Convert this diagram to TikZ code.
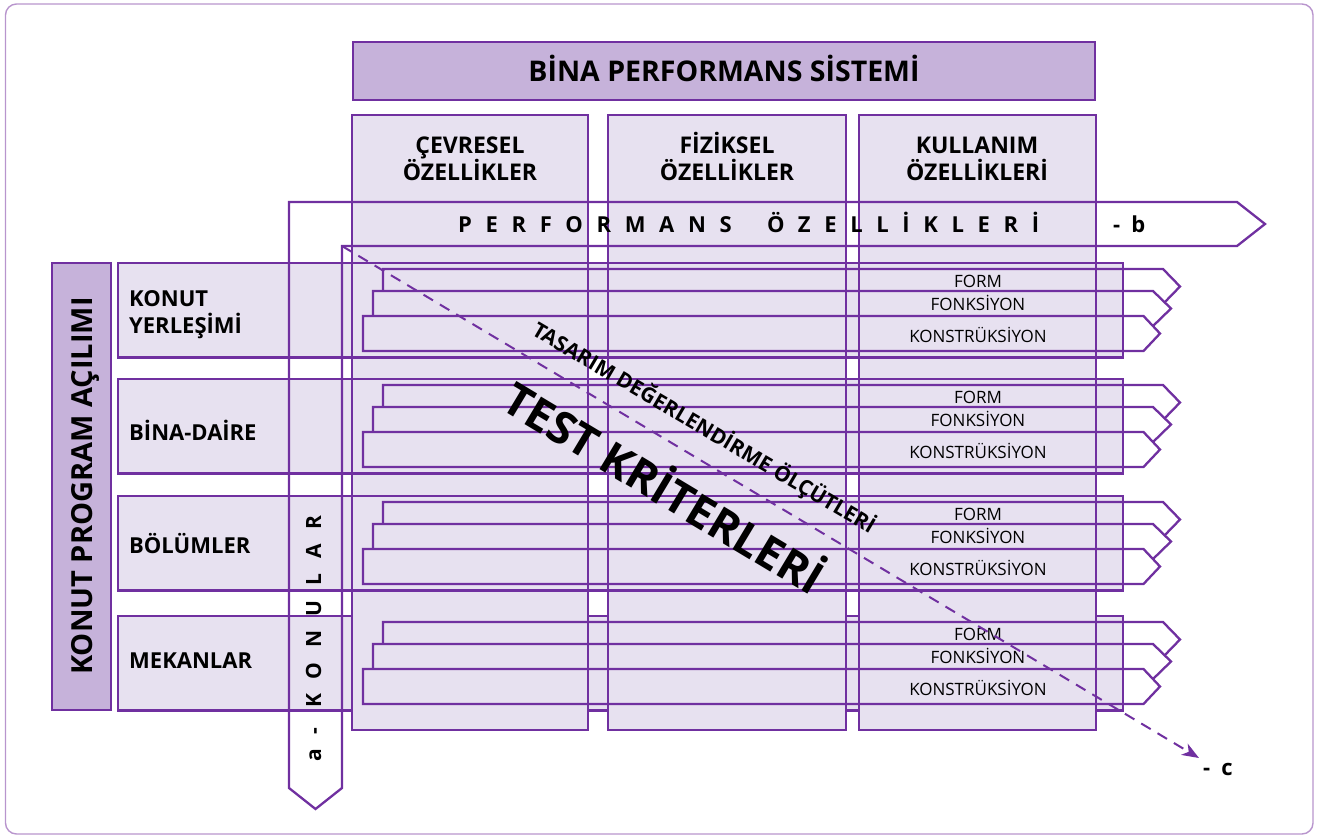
\documentclass[tikz,border=0pt]{standalone}
\usepackage{fontspec}
\setmainfont{Open Sans}
\usetikzlibrary{arrows.meta}
\definecolor{violetline}{HTML}{7030A0}
\definecolor{lilacfill}{HTML}{E7E1F0}
\definecolor{headfill}{HTML}{C6B2DA}
\definecolor{framecol}{HTML}{B895CD}
% one criteria band: left x, top y, shoulder x, tip x (height 35)
\newcommand\bandarrow[4]{%
  \fill[white] (#1,#2) -- (#3,#2) -- (#4,#2+17.5) -- (#3,#2+35) -- (#1,#2+35) -- cycle;
  \fill[lilacfill] (#1,#2) rectangle (1123,#2+35);
  \draw[outline] (#1,#2) -- (#3,#2) -- (#4,#2+17.5) -- (#3,#2+35) -- (#1,#2+35) -- cycle;}
\begin{document}
\begin{tikzpicture}[x=1pt,y=-1pt,
  outline/.style={draw=violetline, line width=2.3pt, line join=miter},
  boldtxt/.style={inner sep=0pt, anchor=base, font=\bfseries\fontsize{#1}{#1}\selectfont},
  plaintxt/.style={inner sep=0pt, anchor=base, font=\fontsize{#1}{#1}\selectfont},
]
\useasboundingbox (0,0) rectangle (1320,838);
\draw[framecol, line width=1.4pt, rounded corners=11pt] (5.5,4) rectangle (1313,834);

% lilac fills of the columns and the rows
\foreach \a/\b in {352/588, 608/846, 859/1096} \fill[lilacfill] (\a,115) rectangle (\b,730);
\foreach \T in {263,379,496,616} \fill[lilacfill] (118,\T) rectangle (1123,\T+94.5);

% criteria bands of each row
\foreach \T in {263,379,496,616}{
  \bandarrow{383}{\T+6}{1163}{1180}
  \bandarrow{373}{\T+28}{1153}{1171}
  \bandarrow{363}{\T+53}{1143.5}{1160}
}

% outline of the last row, which lies beneath the columns
\draw[outline] (352,616) -- (118,616) -- (118,710.5) -- (352,710.5);
\draw[outline] (588,616) -- (608,616) (588,710.5) -- (608,710.5)
  (846,616) -- (859,616) (846,710.5) -- (859,710.5);
\draw[outline] (1096,616) -- (1123,616) -- (1123,710.5) -- (1096,710.5);

% column outlines
\foreach \a/\b in {352/588, 608/846, 859/1096} \draw[outline] (\a,115) rectangle (\b,730);

% outlines of the upper rows
\foreach \T in {263,379,496} \draw[outline] (118,\T) rectangle (1123,\T+94.5);

% L-shaped axis arrow: performance (right) and topics (down)
\draw[outline] (289,202) -- (1237,202) -- (1265,224) -- (1237,246) -- (342,246)
  -- (342,788) -- (315.5,809) -- (289,788) -- cycle;

% title bar
\path[fill=headfill, outline] (353,42) rectangle (1095,100);
\node[boldtxt=28.5] (title) at (724,81.5) {BİNA PERFORMANS SİSTEMİ};

% side bar
\path[fill=headfill, outline] (52,263) rectangle (111,710);
\node[boldtxt=29, rotate=90] (side) at (92.5,486) {KONUT PROGRAM AÇILIMI};

% column headers
\node[boldtxt=23] (h1a) at (470,153) {ÇEVRESEL};
\node[boldtxt=23] (h1b) at (470,180) {ÖZELLİKLER};
\node[boldtxt=23] (h2a) at (727,153) {FİZİKSEL};
\node[boldtxt=23] (h2b) at (727,180) {ÖZELLİKLER};
\node[boldtxt=23] (h3a) at (977,153) {KULLANIM};
\node[boldtxt=23] (h3b) at (977,180) {ÖZELLİKLERİ};

% axis labels
\node[boldtxt=22, anchor=base west] (perf) at (458,232)
  {\addfontfeature{LetterSpace=62}PERFORMANS\hspace{16pt} ÖZELLİKLERİ};
\node[boldtxt=22, anchor=base west] (lb) at (1113,232) {-\hspace{11pt}b};
\node[boldtxt=21, rotate=90, anchor=base west] (konular) at (321,762) {\addfontfeature{LetterSpace=70}a- KONULAR};

% row labels
\node[boldtxt=22, anchor=base west] (r1a) at (129,306) {KONUT};
\node[boldtxt=22, anchor=base west] (r1b) at (129,333) {YERLEŞİMİ};
\node[boldtxt=22, anchor=base west] (r2) at (129,440) {BİNA-DAİRE};
\node[boldtxt=22, anchor=base west] (r3) at (129,553) {BÖLÜMLER};
\node[boldtxt=22, anchor=base west] (r4) at (129,668) {MEKANLAR};

% band labels
\foreach \T in {263,379,496,616}{
  \node[plaintxt=17] (form\T) at (978,\T+24) {FORM};
  \node[plaintxt=17] (fonk\T) at (978,\T+47.5) {FONKSİYON};
  \node[plaintxt=17] (kons\T) at (978,\T+79) {KONSTRÜKSİYON};
}

% diagonal test-criteria axis
\coordinate (cstart) at (342,246);
\coordinate (cend) at (1199,758);
\draw[violetline, line width=2pt, dash pattern=on 11pt off 8pt,
  -{Stealth[length=17pt,width=13pt,inset=5pt]}] (cstart) -- (cend);
\node[boldtxt=22, anchor=base west] (lc) at (1203,775) {-\hspace{11pt}c};

\node[boldtxt=21, anchor=center, rotate=-30.5] (tde) at (704,428) {TASARIM DEĞERLENDİRME ÖLÇÜTLERİ};
\node[boldtxt=45, anchor=center, rotate=-31] (tk) at (666,485) {TEST KRİTERLERİ};
\end{tikzpicture}
\end{document}
